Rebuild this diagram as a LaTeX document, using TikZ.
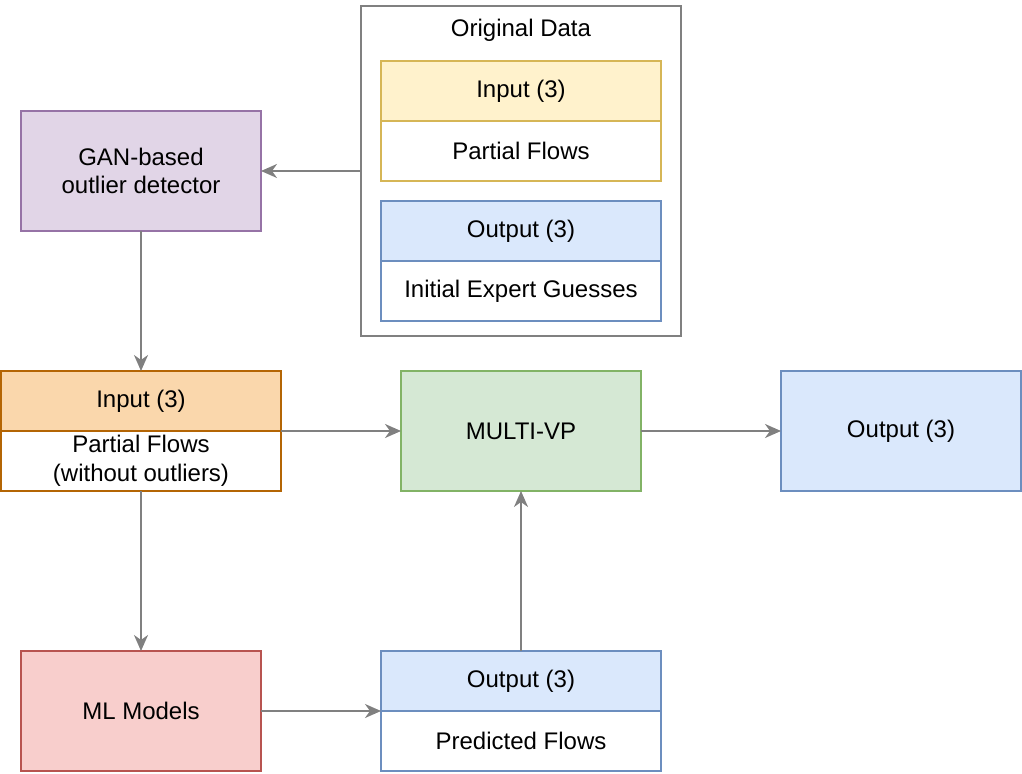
\documentclass[tikz,border=0pt]{standalone}
\usepackage{fontspec}
\setmainfont{Liberation Sans}
\usetikzlibrary{arrows.meta}

\definecolor{edgegray}{HTML}{808080}
\definecolor{yelfill}{HTML}{FFF2CC}
\definecolor{yeldraw}{HTML}{D6B656}
\definecolor{bluefill}{HTML}{DAE8FC}
\definecolor{bluedraw}{HTML}{6C8EBF}
\definecolor{purpfill}{HTML}{E1D5E7}
\definecolor{purpdraw}{HTML}{9673A6}
\definecolor{orfill}{HTML}{FAD7AC}
\definecolor{ordraw}{HTML}{B46504}
\definecolor{grfill}{HTML}{D5E8D4}
\definecolor{grdraw}{HTML}{82B366}
\definecolor{redfill}{HTML}{F8CECC}
\definecolor{reddraw}{HTML}{B85450}

\begin{document}
\begin{tikzpicture}[x=0.5pt, y=-0.5pt,
    txt/.style={font=\fontsize{12}{14.4}\selectfont, text=black, align=center},
    box/.style={txt, draw, line width=1pt, inner sep=0pt, outer sep=0pt,
        minimum width=120pt, minimum height=60pt},
    lanebox/.style={box, minimum width=140pt, minimum height=30pt},
    conn/.style={draw=edgegray, line width=1pt,
        -{Stealth[length=8pt, width=7pt, inset=2.5pt, fill=edgegray]}}]

    % Fix the page size
    \useasboundingbox (0,0) rectangle (1022,774);

    % Function to draw a lane: header and body
    \newcommand{\lane}[7]{
        \node[lanebox, fill=#4, draw=#5] (#1) at (#2,#3) {#6};
        \node[lanebox, fill=white, draw=#5] (#1b) at (#2,#3+60) {#7};
    }

    % Draw the original data container
    \node[box, draw=edgegray, minimum width=160pt, minimum height=165pt] (orig) at (521,171) {};
    \node[txt] (origtitle) at (521,30) {Original Data};
    \lane{inOrig}{521}{91}{yelfill}{yeldraw}{Input (3)}{Partial Flows}
    \lane{outOrig}{521}{231}{bluefill}{bluedraw}{Output (3)}{Initial Expert Guesses}

    % Draw the processing boxes
    \node[box, fill=purpfill, draw=purpdraw] (gan) at (141,171) {GAN-based\\outlier detector};
    \lane{inClean}{141}{401}{orfill}{ordraw}{Input (3)}{Partial Flows\\(without outliers)}
    \node[box, fill=grfill, draw=grdraw] (mvp) at (521,431) {MULTI-VP};
    \node[box, fill=bluefill, draw=bluedraw] (outFinal) at (901,431) {Output (3)};
    \node[box, fill=redfill, draw=reddraw] (ml) at (141,711) {ML Models};
    \lane{outPred}{521}{681}{bluefill}{bluedraw}{Output (3)}{Predicted Flows}

    % Draw the connectors
    \draw[conn] (orig.west) -- (gan.east);
    \draw[conn] (gan.south) -- (inClean.north);
    \draw[conn] (inClean.south east) -- (mvp.west);
    \draw[conn] (mvp.east) -- (outFinal.west);
    \draw[conn] (inCleanb.south) -- (ml.north);
    \draw[conn] (ml.east) -- (outPredb.north west);
    \draw[conn] (outPred.north) -- (mvp.south);
\end{tikzpicture}
\end{document}
